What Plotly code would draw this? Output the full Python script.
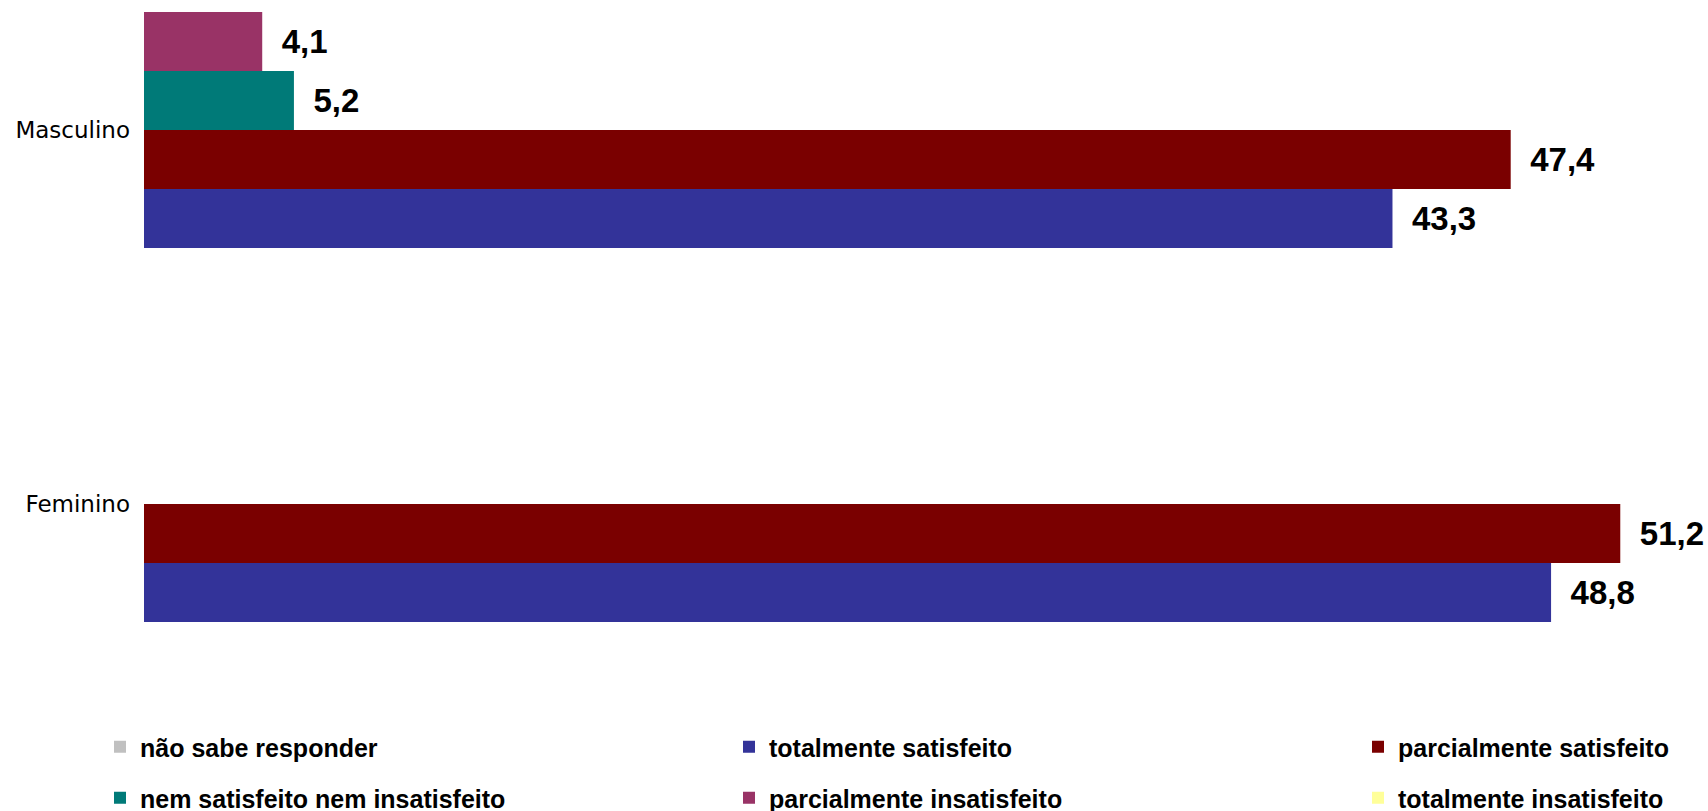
import plotly.graph_objects as go

# ---- data ----
categories = ["Feminino", "Masculino"]
series_names = [
    "não sabe responder",
    "totalmente satisfeito",
    "parcialmente satisfeito",
    "nem satisfeito nem insatisfeito",
    "parcialmente insatisfeito",
    "totalmente insatisfeito",
]
nao_sabe_responder = [None, None]
totalmente_satisfeito = [48.8, 43.3]
parcialmente_satisfeito = [51.2, 47.4]
nem_satisfeito_nem_insatisfeito = [None, 5.2]
parcialmente_insatisfeito = [None, 4.1]
totalmente_insatisfeito = [None, None]

series_values = [
    nao_sabe_responder,
    totalmente_satisfeito,
    parcialmente_satisfeito,
    nem_satisfeito_nem_insatisfeito,
    parcialmente_insatisfeito,
    totalmente_insatisfeito,
]
colors = ["#C0C0C0", "#333399", "#7A0000", "#007A78", "#993366", "#FFFF99"]

W, H = 1708, 811

# legend grid: 3 columns x 2 rows (pixel positions of each entry)
legend_cols_px = [100, 729, 1358]
legend_rows_px = [747, 798]

fig = go.Figure()
legend_layouts = {}
legend_font = dict(family="Liberation Sans, Arial", size=25, color="black", weight="bold")
for i, (name, vals, col) in enumerate(zip(series_names, series_values, colors)):
    lid = "legend" if i == 0 else f"legend{i + 1}"
    fig.add_trace(go.Bar(
        y=categories,
        x=vals,
        name=name,
        orientation="h",
        marker=dict(color=col, line=dict(width=0)),
        texttemplate="\u2002%{x:.1f}",
        textposition="outside",
        constraintext="none",
        cliponaxis=False,
        textfont=dict(family="Liberation Sans, Arial", size=33, color="black", weight="bold"),
        legend=lid,
        showlegend=True,
        hoverinfo="x+name",
    ))
    r, c = divmod(i, 3)
    legend_layouts[lid] = dict(
        orientation="h",
        xref="container", yref="container",
        x=legend_cols_px[c] / W, y=1 - legend_rows_px[r] / H,
        xanchor="left", yanchor="middle",
        font=legend_font,
        bgcolor="rgba(0,0,0,0)",
        borderwidth=0,
        visible=True,
    )

fig.update_layout(
    width=W,
    height=H,
    autosize=False,
    showlegend=True,
    barmode="group",
    bargap=0.0535,
    bargroupgap=0,
    separators=", ",
    paper_bgcolor="white",
    plot_bgcolor="white",
    margin=dict(l=144, r=7, t=0, b=111),
    xaxis=dict(
        range=[0, 54],
        showticklabels=False,
        showgrid=False,
        zeroline=False,
        showline=False,
        ticks="",
        fixedrange=True,
    ),
    yaxis=dict(
        type="category",
        categoryorder="array",
        categoryarray=categories,
        range=[-0.5241, 1.3476],
        showgrid=False,
        zeroline=False,
        showline=False,
        ticks="",
        ticklabelstandoff=13,
        tickfont=dict(family="DejaVu Sans, Verdana", size=23, color="black"),
        fixedrange=True,
    ),
    **legend_layouts,
)

fig.write_html(
    "out.html",
    include_plotlyjs=True,
    config={"displayModeBar": False},
    post_script="document.body.style.margin='0';document.body.style.overflow='hidden';",
)
